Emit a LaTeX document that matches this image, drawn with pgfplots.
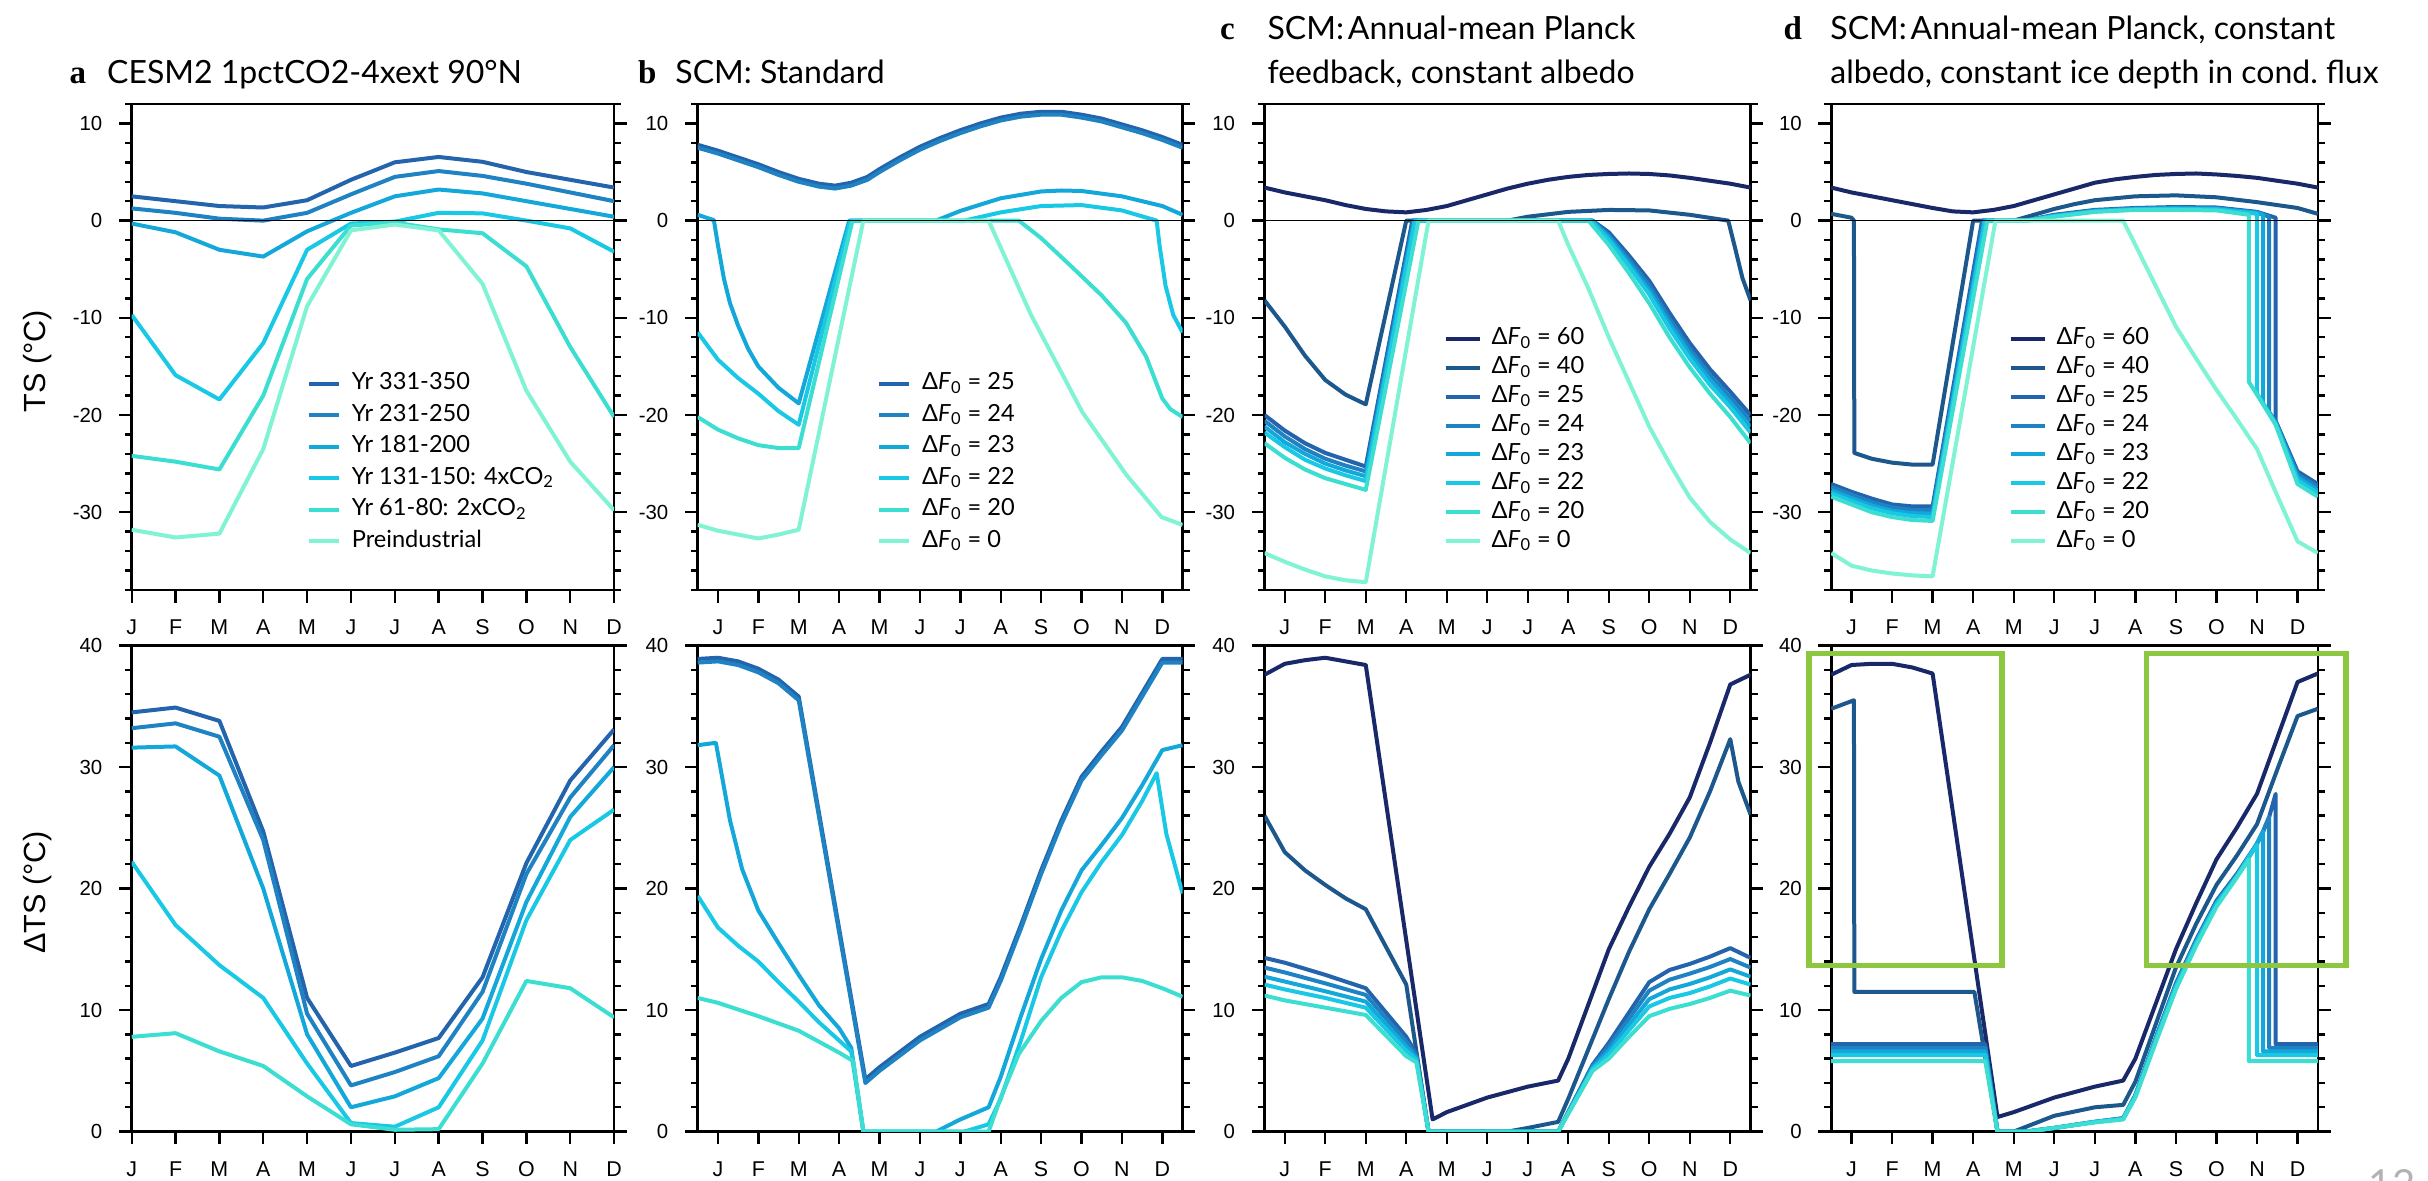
\documentclass[border=0pt]{standalone}
\usepackage{fontspec}
\setmainfont{Lato}
\newfontfamily\helv{Liberation Sans}
\newfontfamily\serifb{Liberation Serif}
\usepackage{pgfplots}
\pgfplotsset{compat=1.18}
\definecolor{c60}{RGB}{25,40,105}
\definecolor{c40}{RGB}{28,88,140}
\definecolor{c25}{RGB}{35,100,172}
\definecolor{c24}{RGB}{30,130,195}
\definecolor{c23}{RGB}{20,168,218}
\definecolor{c22}{RGB}{25,200,228}
\definecolor{c20}{RGB}{60,222,210}
\definecolor{c0}{RGB}{128,243,212}
\definecolor{boxgreen}{RGB}{141,198,63}
\newcommand\xtickfont{\helv\fontsize{10.7}{12}\selectfont}
\newcommand\ytickfont{\helv\fontsize{10.2}{12}\selectfont}
\newcommand\labfont{\helv\fontsize{15.3}{18}\selectfont}
\newcommand\legfont{\fontsize{11.8}{14}\selectfont}
\newcommand\titfont{\fontsize{16}{19}\selectfont}
\newcommand\letfont{\serifb\bfseries\fontsize{16.5}{19}\selectfont}
\newcommand\DF[1]{Δ\textit{F}\textsubscript{0} = #1}
\pgfplotsset{
  base/.style={scale only axis, anchor=south west, height=243pt,
    xmin=-0.5, xmax=11.5, xtick={0,...,11}, xticklabels={J,F,M,A,M,J,J,A,S,O,N,D},
    tick align=inside, xtick pos=left, ytick pos=both, yticklabel pos=left,
    major tick length=-6.4pt, minor tick length=-3.5pt,
    every tick/.style={black, line width=1.2pt},
    axis line style={line width=1.3pt},
    xticklabel style={font=\xtickfont, anchor=north, yshift=-11.5pt},
    yticklabel style={font=\ytickfont, anchor=east, xshift=-11.2pt},
    every axis plot/.append style={line width=2pt, line join=round},
    legend cell align=left,
  },
  toprow/.style={ymin=-38, ymax=12, ytick={-30,-20,-10,0,10}, yticklabels={-30,-20,-10,0,10}, minor ytick={-38,-36,...,12}},
  botrow/.style={ymin=0, ymax=40, ytick={0,10,20,30,40}, yticklabels={0,10,20,30,40}, minor ytick={0,2,...,40}},
  legAB/.style={legend image code/.code={\draw[##1] (0pt,0pt) -- (15pt,0pt);},
    legend style={at={(#1)}, anchor=west, draw=none, fill=none, font=\legfont, inner sep=0pt, row sep=4.75pt, column sep=5.5pt, nodes={inner sep=0pt, text height=8.5pt, text depth=2.5pt}}},
  legCD/.style={legend image code/.code={\draw[##1] (0pt,0pt) -- (17pt,0pt);},
    legend style={at={(#1)}, anchor=west, draw=none, fill=none, font=\legfont, inner sep=0pt, row sep=3.45pt, column sep=5pt, nodes={inner sep=0pt, text height=8.5pt, text depth=2.5pt}}},
}
\begin{document}
\begin{tikzpicture}
\useasboundingbox (0,0) rectangle (1214pt,590.5pt);
% ================= Panel a top =================
\begin{axis}[base, toprow, at={(65.85pt,295.5pt)}, width=241.2pt, xmin=0, xmax=11,
  ylabel={TS (°C)}, ylabel style={font=\labfont, at={(axis description cs:-0.195,0.471)}, anchor=center},
  legAB={0.3622,0.2625}]
\addplot[c25] coordinates {(0,2.5)(1,2.0)(2,1.5)(3,1.35)(4,2.1)(5,4.2)(6,6.0)(7,6.55)(8,6.05)(9,5.0)(10,4.2)(11,3.4)};
\addlegendentry{Yr 331-350}
\addplot[c24] coordinates {(0,1.26)(1,0.8)(2,0.2)(3,0.0)(4,0.8)(5,2.7)(6,4.5)(7,5.1)(8,4.6)(9,3.8)(10,2.9)(11,2.0)};
\addlegendentry{Yr 231-250}
\addplot[c23] coordinates {(0,-0.3)(1,-1.2)(2,-3.0)(3,-3.7)(4,-1.1)(5,0.8)(6,2.5)(7,3.2)(8,2.8)(9,2.0)(10,1.2)(11,0.4)};
\addlegendentry{Yr 181-200}
\addplot[c22] coordinates {(0,-9.7)(1,-15.9)(2,-18.4)(3,-12.6)(4,-3.0)(5,-0.3)(6,-0.1)(7,0.8)(8,0.75)(9,0.0)(10,-0.8)(11,-3.2)};
\addlegendentry{Yr 131-150: 4xCO\textsubscript{2}}
\addplot[c20] coordinates {(0,-24.2)(1,-24.8)(2,-25.6)(3,-18.0)(4,-6.0)(5,-0.5)(6,-0.2)(7,-0.9)(8,-1.3)(9,-4.7)(10,-13.0)(11,-20.2)};
\addlegendentry{Yr 61-80: 2xCO\textsubscript{2}}
\addplot[c0] coordinates {(0,-31.8)(1,-32.6)(2,-32.2)(3,-23.5)(4,-8.8)(5,-1.0)(6,-0.4)(7,-1.0)(8,-6.5)(9,-17.5)(10,-24.8)(11,-29.8)};
\addlegendentry{Preindustrial}
\addplot[black, line width=0.8pt, forget plot] coordinates {(0,0)(11,0)};
\end{axis}
% ================= Panel b top =================
\begin{axis}[base, toprow, at={(348.85pt,295.5pt)}, width=242.4pt, legAB={0.3694,0.2625}]
\addplot[c25] coordinates {(-0.5,7.8)(0,7.2)(0.5,6.5)(1,5.8)(1.5,5.0)(2,4.3)(2.5,3.8)(2.9,3.6)(3.3,3.9)(3.7,4.5)(4,5.3)(4.5,6.5)(5,7.6)(5.5,8.5)(6,9.3)(6.5,10.0)(7,10.6)(7.5,11.0)(8,11.2)(8.5,11.2)(9,10.9)(9.5,10.5)(10,9.9)(10.5,9.3)(11,8.6)(11.5,7.8)};
\addlegendentry{\DF{25}}
\addplot[c24] coordinates {(-0.5,7.5)(0,6.9)(0.5,6.2)(1,5.5)(1.5,4.7)(2,4.0)(2.5,3.5)(2.9,3.3)(3.3,3.6)(3.7,4.2)(4,5.0)(4.5,6.2)(5,7.3)(5.5,8.2)(6,9.0)(6.5,9.7)(7,10.3)(7.5,10.7)(8,10.9)(8.5,10.9)(9,10.6)(9.5,10.2)(10,9.6)(10.5,9.0)(11,8.3)(11.5,7.5)};
\addlegendentry{\DF{24}}
\addplot[c23] coordinates {(-0.5,0.6)(-0.1,0.05)(0,-2.5)(0.15,-6.0)(0.3,-8.5)(0.5,-10.8)(0.75,-13.2)(1,-15.0)(1.5,-17.2)(2,-18.8)(3.25,0)(5.4,0)(6,1.0)(7,2.3)(8,3.0)(8.5,3.1)(9,3.05)(10,2.5)(11,1.5)(11.5,0.6)};
\addlegendentry{\DF{23}}
\addplot[c22] coordinates {(-0.5,-11.5)(0,-14.3)(0.5,-16.2)(1,-17.8)(1.5,-19.6)(2,-21.0)(3.28,0)(6.1,0)(7,0.85)(8,1.5)(9,1.6)(10,1.05)(10.86,0)(10.93,-2.5)(11.08,-6.7)(11.27,-9.7)(11.5,-11.5)};
\addlegendentry{\DF{22}}
\addplot[c20] coordinates {(-0.5,-20.2)(0,-21.5)(0.5,-22.4)(1,-23.1)(1.5,-23.4)(2,-23.4)(3.33,0)(7.45,0)(8,-1.8)(8.72,-4.6)(9.5,-7.7)(10.1,-10.5)(10.6,-14.0)(11,-18.3)(11.2,-19.4)(11.5,-20.2)};
\addlegendentry{\DF{20}}
\addplot[c0] coordinates {(-0.5,-31.3)(0,-31.9)(0.5,-32.3)(1,-32.7)(1.5,-32.3)(2,-31.8)(3.6,0)(6.7,0)(7.75,-9.7)(9.02,-19.7)(10.1,-26.1)(10.98,-30.5)(11.5,-31.3)};
\addlegendentry{\DF{0}}
\addplot[black, line width=0.8pt, forget plot] coordinates {(-0.5,0)(11.5,0)};
\end{axis}
% ================= Panel c top =================
\begin{axis}[base, toprow, at={(632.25pt,295.5pt)}, width=243pt, legCD={0.3678,0.3086}]
\addplot[c60] coordinates {(-0.5,3.4)(0,2.9)(0.5,2.5)(1,2.1)(1.5,1.6)(2,1.2)(2.5,0.95)(3,0.85)(3.5,1.1)(4,1.5)(4.5,2.1)(5,2.7)(5.5,3.3)(6,3.8)(6.5,4.2)(7,4.5)(7.5,4.7)(8,4.8)(8.5,4.85)(9,4.8)(9.5,4.65)(10,4.4)(10.5,4.1)(11,3.8)(11.5,3.4)};
\addlegendentry{\DF{60}}
\addplot[c40] coordinates {(-0.5,-8.2)(0,-10.9)(0.5,-13.9)(1,-16.4)(1.5,-17.9)(2,-18.9)(3.0,0)(5.5,0)(6,0.4)(7,0.9)(8,1.1)(9,1.05)(10,0.6)(10.95,0)(11.1,-2.5)(11.3,-5.9)(11.5,-8.2)};
\addlegendentry{\DF{40}}
\addplot[c25] coordinates {(-0.5,-20.0)(0,-21.6)(0.5,-22.9)(1,-23.9)(1.5,-24.6)(2,-25.3)(3.15,0)(7.6,0)(8,-1.2)(8.5,-3.6)(9,-6.2)(9.5,-9.5)(10,-12.6)(10.5,-15.3)(11,-17.6)(11.5,-20.0)};
\addlegendentry{\DF{25}}
\addplot[c24] coordinates {(-0.5,-20.6)(0,-22.2)(0.5,-23.5)(1,-24.5)(1.5,-25.2)(2,-25.8)(3.18,0)(7.6,0)(8,-1.5)(8.5,-4.0)(9,-6.7)(9.5,-10.1)(10,-13.2)(10.5,-15.9)(11,-18.2)(11.5,-20.6)};
\addlegendentry{\DF{24}}
\addplot[c23] coordinates {(-0.5,-21.2)(0,-22.8)(0.5,-24.0)(1,-25.0)(1.5,-25.7)(2,-26.3)(3.2,0)(7.58,0)(8,-1.7)(8.5,-4.4)(9,-7.2)(9.5,-10.6)(10,-13.7)(10.5,-16.4)(11,-18.7)(11.5,-21.2)};
\addlegendentry{\DF{23}}
\addplot[c22] coordinates {(-0.5,-21.8)(0,-23.3)(0.5,-24.6)(1,-25.5)(1.5,-26.2)(2,-26.8)(3.22,0)(7.56,0)(8,-2.0)(8.5,-4.7)(9,-7.6)(9.5,-11.1)(10,-14.2)(10.5,-16.9)(11,-19.2)(11.5,-21.8)};
\addlegendentry{\DF{22}}
\addplot[c20] coordinates {(-0.5,-22.9)(0,-24.4)(0.5,-25.6)(1,-26.5)(1.5,-27.1)(2,-27.7)(3.3,0)(7.5,0)(8,-2.5)(8.5,-5.4)(9,-8.5)(9.5,-12.0)(10,-15.1)(10.5,-17.8)(11,-20.2)(11.5,-22.9)};
\addlegendentry{\DF{20}}
\addplot[c0] coordinates {(-0.5,-34.2)(0,-35.1)(0.5,-35.9)(1,-36.6)(1.5,-37.0)(2,-37.2)(3.55,0)(6.75,0)(7,-2.5)(7.5,-7.0)(8,-12.0)(8.5,-16.6)(9,-21.2)(9.5,-25.0)(10,-28.5)(10.5,-31.0)(11,-32.8)(11.5,-34.2)};
\addlegendentry{\DF{0}}
\addplot[black, line width=0.8pt, forget plot] coordinates {(-0.5,0)(11.5,0)};
\end{axis}
% ================= Panel d top =================
\begin{axis}[base, toprow, at={(915.6pt,295.5pt)}, width=243.3pt, legCD={0.3637,0.3086}]
\addplot[c60] coordinates {(-0.5,3.4)(0,2.9)(0.5,2.5)(1,2.1)(1.5,1.7)(2,1.3)(2.5,0.95)(3,0.85)(3.5,1.1)(4,1.5)(4.5,2.1)(5,2.7)(5.5,3.3)(6,3.9)(6.5,4.25)(7,4.5)(7.5,4.7)(8,4.8)(8.5,4.85)(9,4.75)(9.5,4.6)(10,4.4)(10.5,4.1)(11,3.8)(11.5,3.4)};
\addlegendentry{\DF{60}}
\addplot[c40] coordinates {(-0.5,0.7)(0,0.3)(0.06,0.0)(0.07,-23.9)(0.5,-24.5)(1,-24.9)(1.5,-25.1)(2,-25.1)(3.0,0)(4.0,0)(4.5,0.6)(5,1.2)(5.5,1.7)(6,2.1)(7,2.5)(8,2.6)(9,2.4)(10,1.9)(11,1.3)(11.5,0.7)};
\addlegendentry{\DF{40}}
\addplot[c25] coordinates {(-0.5,-27.1)(0,-27.9)(0.5,-28.6)(1,-29.2)(1.5,-29.4)(2,-29.4)(3.22,0)(4.3,0)(5,0.6)(6,1.1)(7,1.3)(8,1.4)(9,1.35)(10,0.9)(10.46,0.3)(10.46,-20.6)(11,-25.8)(11.5,-27.1)};
\addlegendentry{\DF{25}}
\addplot[c24] coordinates {(-0.5,-27.4)(0,-28.2)(0.5,-28.95)(1,-29.5)(1.5,-29.75)(2,-29.8)(3.25,0)(4.3,0)(5,0.55)(6,1.05)(7,1.25)(8,1.33)(9,1.28)(10,0.85)(10.3,0.4)(10.3,-19.7)(10.46,-20.7)(11,-26.1)(11.5,-27.4)};
\addlegendentry{\DF{24}}
\addplot[c23] coordinates {(-0.5,-27.75)(0,-28.55)(0.5,-29.3)(1,-29.85)(1.5,-30.1)(2,-30.15)(3.28,0)(4.3,0)(5,0.5)(6,1.0)(7,1.2)(8,1.27)(9,1.22)(10,0.8)(10.15,0.6)(10.15,-18.8)(10.46,-20.8)(11,-26.4)(11.5,-27.75)};
\addlegendentry{\DF{23}}
\addplot[c22] coordinates {(-0.5,-28.05)(0,-28.85)(0.5,-29.6)(1,-30.1)(1.5,-30.4)(2,-30.5)(3.3,0)(4.3,0)(5,0.45)(6,0.95)(7,1.15)(8,1.2)(9,1.15)(10,0.7)(10,-17.8)(10.46,-20.9)(11,-26.7)(11.5,-28.05)};
\addlegendentry{\DF{22}}
\addplot[c20] coordinates {(-0.5,-28.4)(0,-29.2)(0.5,-30.0)(1,-30.5)(1.5,-30.8)(2,-30.9)(3.35,0)(4.35,0)(5,0.4)(6,0.9)(7,1.1)(8,1.1)(9,1.05)(9.8,0.6)(9.8,-16.6)(10,-17.9)(10.46,-21.0)(11,-27.1)(11.5,-28.4)};
\addlegendentry{\DF{20}}
\addplot[c0] coordinates {(-0.5,-34.2)(0,-35.5)(0.5,-36.0)(1,-36.3)(1.5,-36.5)(2,-36.6)(3.55,0)(6.7,0)(7,-2.5)(7.5,-6.7)(8,-10.9)(8.5,-14.2)(9,-17.4)(9.5,-20.4)(10,-23.5)(10.5,-28.3)(11,-33.0)(11.5,-34.2)};
\addlegendentry{\DF{0}}
\addplot[black, line width=0.8pt, forget plot] coordinates {(-0.5,0)(11.5,0)};
\end{axis}
% ================= Panel a bottom =================
\begin{axis}[base, botrow, at={(65.85pt,24.7pt)}, width=241.2pt, xmin=0, xmax=11,
  ylabel={ΔTS (°C)}, ylabel style={font=\labfont, at={(axis description cs:-0.195,0.492)}, anchor=center}]
\addplot[c25] coordinates {(0,34.5)(1,34.9)(2,33.8)(3,24.7)(4,11.0)(5,5.4)(6,6.5)(7,7.7)(8,12.7)(9,22.1)(10,28.9)(11,33.1)};
\addplot[c24] coordinates {(0,33.2)(1,33.6)(2,32.5)(3,24.0)(4,9.7)(5,3.8)(6,4.9)(7,6.2)(8,11.5)(9,21.2)(10,27.5)(11,31.8)};
\addplot[c23] coordinates {(0,31.6)(1,31.7)(2,29.3)(3,20.0)(4,8.0)(5,2.0)(6,2.9)(7,4.4)(8,9.3)(9,18.9)(10,25.9)(11,30.0)};
\addplot[c22] coordinates {(0,22.2)(1,17.0)(2,13.7)(3,11.0)(4,5.6)(5,0.7)(6,0.4)(7,2.0)(8,7.5)(9,17.4)(10,24.0)(11,26.5)};
\addplot[c20] coordinates {(0,7.8)(1,8.1)(2,6.6)(3,5.4)(4,2.9)(5,0.6)(6,0.15)(7,0.2)(8,5.6)(9,12.4)(10,11.8)(11,9.4)};
\end{axis}
% ================= Panel b bottom =================
\begin{axis}[base, botrow, at={(348.85pt,24.7pt)}, width=242.4pt]
\addplot[c25] coordinates {(-0.5,38.9)(0,39.0)(0.5,38.7)(1,38.1)(1.5,37.2)(2,35.8)(3.65,4.3)(4,5.3)(5,7.8)(6,9.7)(6.7,10.5)(7,12.7)(7.5,17.0)(8,21.5)(8.5,25.6)(9,29.2)(9.5,31.3)(10,33.3)(10.5,36.1)(11,38.9)(11.5,38.9)};
\addplot[c24] coordinates {(-0.5,38.6)(0,38.7)(0.5,38.4)(1,37.8)(1.5,36.9)(2,35.5)(3.65,4.0)(4,5.0)(5,7.5)(6,9.4)(6.7,10.2)(7,12.4)(7.5,16.7)(8,21.2)(8.5,25.3)(9,28.9)(9.5,31.0)(10,33.0)(10.5,35.8)(11,38.6)(11.5,38.6)};
\addplot[c23] coordinates {(-0.5,31.8)(-0.05,32.0)(0.3,25.6)(0.6,21.6)(1,18.2)(1.5,15.5)(2,12.9)(2.5,10.4)(3,8.5)(3.3,6.9)(3.6,0)(5.4,0)(6,1.0)(6.7,2.0)(7,4.5)(7.5,9.5)(8,14.2)(8.5,18.2)(9,21.5)(9.5,23.6)(10,25.8)(10.5,28.5)(11,31.4)(11.5,31.8)};
\addplot[c22] coordinates {(-0.5,19.4)(0,16.8)(0.5,15.3)(1,14.0)(1.5,12.3)(2,10.7)(2.5,9.0)(3,7.5)(3.3,6.6)(3.6,0)(6.1,0)(6.7,0.6)(7,2.7)(7.5,7.5)(8,12.7)(8.5,16.5)(9,19.7)(9.5,22.2)(10,24.4)(10.5,27.2)(10.86,29.5)(11.1,24.5)(11.5,19.6)};
\addplot[c20] coordinates {(-0.5,11.0)(0,10.6)(1,9.5)(2,8.3)(3,6.5)(3.35,5.8)(3.6,0)(6.7,0)(7.0,2.8)(7.45,6.4)(8,9.1)(8.5,11.0)(9,12.3)(9.5,12.7)(10,12.7)(10.5,12.4)(11,11.8)(11.5,11.1)};
\end{axis}
% ================= Panel c bottom =================
\begin{axis}[base, botrow, at={(632.25pt,24.7pt)}, width=243pt]
\addplot[c60] coordinates {(-0.5,37.6)(0,38.5)(0.5,38.8)(1,39.0)(1.5,38.7)(2,38.4)(3.65,1.0)(4,1.6)(5,2.8)(6,3.7)(6.75,4.2)(7,6.0)(7.5,10.5)(8,15.0)(8.5,18.5)(9,21.8)(9.5,24.5)(10,27.5)(10.5,32.0)(11,36.8)(11.5,37.6)};
\addplot[c40] coordinates {(-0.5,26.0)(0,23.0)(0.5,21.5)(1,20.3)(1.5,19.2)(2,18.3)(2.5,15.2)(3,12.1)(3.55,0)(5.5,0)(6,0.3)(6.75,0.8)(7,2.7)(7.5,6.8)(8,10.9)(8.5,14.8)(9,18.3)(9.5,21.2)(10,24.2)(10.5,28.0)(11,32.3)(11.2,28.8)(11.5,26.1)};
\addplot[c25] coordinates {(-0.5,14.3)(0,13.9)(1,12.9)(2,11.8)(3,7.8)(3.25,6.4)(3.55,0)(6.75,0)(7.6,5.5)(8,7.3)(8.5,9.8)(9,12.3)(9.5,13.3)(10,13.8)(10.5,14.4)(11,15.1)(11.5,14.3)};
\addplot[c24] coordinates {(-0.5,13.5)(0,13.1)(1,12.2)(2,11.25)(3,7.4)(3.25,6.2)(3.55,0)(6.75,0)(7.6,5.4)(8,7.0)(8.5,9.3)(9,11.6)(9.5,12.5)(10,13.0)(10.5,13.55)(11,14.2)(11.5,13.5)};
\addplot[c23] coordinates {(-0.5,12.75)(0,12.35)(1,11.55)(2,10.7)(3,7.0)(3.25,6.05)(3.55,0)(6.75,0)(7.6,5.25)(8,6.65)(8.5,8.8)(9,10.9)(9.5,11.7)(10,12.15)(10.5,12.7)(11,13.35)(11.5,12.75)};
\addplot[c22] coordinates {(-0.5,12.1)(0,11.7)(1,11.0)(2,10.2)(3,6.65)(3.25,5.9)(3.55,0)(6.75,0)(7.6,5.15)(8,6.35)(8.5,8.35)(9,10.3)(9.5,11.0)(10,11.4)(10.5,11.95)(11,12.6)(11.5,12.1)};
\addplot[c20] coordinates {(-0.5,11.2)(0,10.8)(1,10.2)(2,9.6)(3,6.2)(3.25,5.7)(3.55,0)(6.75,0)(7.6,5.0)(8,6.0)(8.5,7.8)(9,9.5)(9.5,10.1)(10,10.5)(10.5,11.0)(11,11.6)(11.5,11.2)};
\end{axis}
% ================= Panel d bottom =================
\begin{axis}[base, botrow, at={(915.6pt,24.7pt)}, width=243.3pt]
\addplot[c60] coordinates {(-0.5,37.6)(0,38.4)(0.5,38.5)(1,38.5)(1.5,38.2)(2,37.7)(3.6,1.2)(4,1.6)(5,2.8)(6,3.7)(6.7,4.2)(7,6.0)(7.5,10.5)(8,15.0)(8.5,18.8)(9,22.4)(9.5,25.0)(10,27.8)(10.5,32.4)(11,37.0)(11.5,37.7)};
\addplot[c40] coordinates {(-0.5,34.8)(0.06,35.5)(0.07,11.5)(3.03,11.5)(3.6,0)(4.0,0)(5,1.3)(6,2.0)(6.7,2.2)(7,4.1)(7.5,8.8)(8,13.5)(8.5,17.1)(9,20.3)(9.5,22.7)(10,25.3)(10.5,29.8)(11,34.2)(11.5,34.8)};
\addplot[c25] coordinates {(-0.5,7.2)(3.3,7.2)(3.6,0)(4.3,0)(5,0.3)(6,0.8)(6.7,1.1)(7,3.0)(7.5,7.7)(8,12.2)(8.5,15.8)(9,19.0)(9.5,21.2)(9.8,22.7)(10,23.7)(10.15,24.7)(10.3,25.9)(10.46,27.8)(10.46,7.2)(11.5,7.2)};
\addplot[c24] coordinates {(-0.5,6.9)(3.3,6.9)(3.6,0)(4.3,0)(5,0.3)(6,0.8)(6.7,1.1)(7,3.0)(7.5,7.65)(8,12.1)(8.5,15.7)(9,18.9)(9.5,21.1)(9.8,22.6)(10,23.7)(10.15,24.7)(10.3,25.9)(10.3,6.9)(11.5,6.9)};
\addplot[c23] coordinates {(-0.5,6.6)(3.3,6.6)(3.6,0)(4.3,0)(5,0.3)(6,0.8)(6.7,1.05)(7,2.95)(7.5,7.6)(8,12.0)(8.5,15.6)(9,18.8)(9.5,21.0)(9.8,22.6)(10,23.7)(10.15,24.7)(10.15,6.6)(11.5,6.6)};
\addplot[c22] coordinates {(-0.5,6.3)(3.3,6.3)(3.6,0)(4.3,0)(5,0.3)(6,0.8)(6.7,1.05)(7,2.9)(7.5,7.5)(8,11.9)(8.5,15.5)(9,18.7)(9.5,21.0)(9.8,22.6)(10,23.6)(10,6.3)(11.5,6.3)};
\addplot[c20] coordinates {(-0.5,5.8)(3.3,5.8)(3.6,0)(4.35,0)(5,0.3)(6,0.75)(6.7,1.0)(7,2.8)(7.5,7.3)(8,11.7)(8.5,15.3)(9,18.5)(9.5,20.9)(9.8,22.4)(9.8,5.8)(11.5,5.8)};
\end{axis}
% green highlight boxes
\draw[boxgreen, line width=2.6pt] (904.5pt,107.9pt) rectangle (1001pt,263.9pt);
\draw[boxgreen, line width=2.6pt] (1073.3pt,107.9pt) rectangle (1173pt,263.9pt);
% titles
\node[anchor=base west, inner sep=0pt, font=\letfont] at (34.6pt,548.65pt) {a};
\node[anchor=base west, inner sep=0pt, font=\titfont] at (53.4pt,548.65pt) {CESM2 1pctCO2-4xext 90°N};
\node[anchor=base west, inner sep=0pt, font=\letfont] at (318.8pt,548.65pt) {b};
\node[anchor=base west, inner sep=0pt, font=\titfont] at (337.5pt,548.65pt) {SCM: Standard};
\node[anchor=base west, inner sep=0pt, font=\letfont] at (609.9pt,570.7pt) {c};
\node[anchor=base west, inner sep=0pt, font=\titfont] at (633.6pt,570.7pt) {SCM:\hspace{0.12em}Annual-mean Planck};
\node[anchor=base west, inner sep=0pt, font=\titfont] at (633.6pt,548.65pt) {feedback, constant albedo};
\node[anchor=base west, inner sep=0pt, font=\letfont] at (891.6pt,570.7pt) {d};
\node[anchor=base west, inner sep=0pt, font=\titfont] at (915pt,570.7pt) {SCM:\hspace{0.12em}Annual-mean Planck, constant};
\node[anchor=base west, inner sep=0pt, font=\titfont] at (915pt,548.65pt) {albedo, constant ice depth in cond.\ flux};
\node[anchor=north, inner sep=0pt, font=\fontsize{20}{24}\selectfont, text=gray!60] at (1196pt,6pt) {12};
\end{tikzpicture}
\end{document}
